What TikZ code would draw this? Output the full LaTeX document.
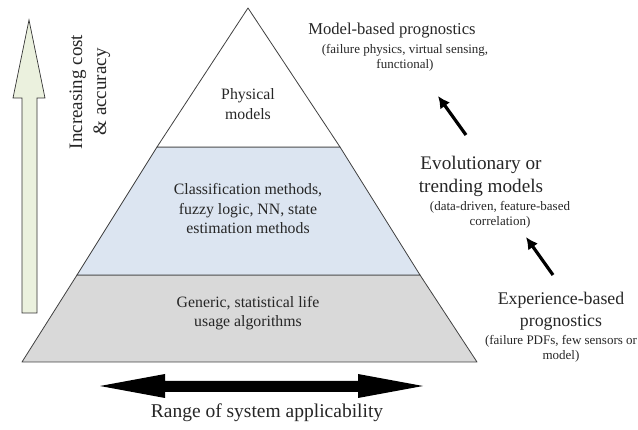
\documentclass[tikz,border=0pt]{standalone}
\usepackage{fontspec}
\setmainfont{Liberation Serif}
\usetikzlibrary{arrows.meta}
\definecolor{tiertop}{HTML}{FFFFFF}
\definecolor{tiermid}{HTML}{DCE5F1}
\definecolor{tierbot}{HTML}{D9D9D9}
\definecolor{costgreen}{HTML}{EBF1DE}
\definecolor{txt}{HTML}{262626}
\begin{document}
\begin{tikzpicture}[x=1pt,y=-1pt,
  tier/.style={draw=black!75,line width=0.8pt,line join=round},
  tiertext/.style={align=center,font=\fontsize{15.8}{19.5}\selectfont,text=txt},
  subtext/.style={align=center,font=\fontsize{13}{15}\selectfont,text=txt},
  stagearrow/.style={line width=3.2pt,-{Latex[length=12pt,width=12pt]}},
]
\useasboundingbox (0,0) rectangle (638,430);
% pyramid corners
\coordinate (apex) at (248,8);
\coordinate (bl) at (22,362);
\coordinate (br) at (477,362);
\coordinate (ml) at (77,275);
\coordinate (mr) at (420,275);
\coordinate (tl) at (157,147);
\coordinate (tr) at (340,147);
% tiers
\filldraw[tier,fill=tierbot] (bl) -- (br) -- (mr) -- (ml) -- cycle;
\filldraw[tier,fill=tiermid] (ml) -- (mr) -- (tr) -- (tl) -- cycle;
\filldraw[tier,fill=tiertop] (tl) -- (tr) -- (apex) -- cycle;
\node[tiertext] (phys) at (248,104) {Physical\\models};
\node[tiertext] (class) at (248,209) {Classification methods,\\fuzzy logic, NN, state\\estimation methods};
\node[tiertext] (gen) at (248,313) {Generic, statistical life\\usage algorithms};
% cost arrow
\filldraw[draw=black!80,line width=0.7pt,fill=costgreen]
  (22,313) -- (37,313) -- (37,98) -- (45,98) -- (29,20) -- (13,98) -- (22,98) -- cycle;
\node[rotate=90,align=center,font=\fontsize{19}{24}\selectfont,text=txt] (cost) at (90,92) {Increasing cost\\\& accuracy};
% prognostic stages
\node[align=center,font=\fontsize{16.6}{20}\selectfont,text=txt] (mb) at (392,31) {Model-based prognostics};
\node[subtext,anchor=north] (mbsub) at (405,41) {(failure physics, virtual sensing,\\functional)};
\node[align=center,font=\fontsize{19.2}{23}\selectfont,text=txt] (evo) at (481,176) {Evolutionary or\\trending models};
\node[subtext,anchor=north] (evosub) at (500,198) {(data-driven, feature-based\\correlation)};
\node[align=center,font=\fontsize{17.8}{22}\selectfont,text=txt] (exp) at (561,311) {Experience-based\\prognostics};
\node[subtext,anchor=north] (expsub) at (561,332) {(failure PDFs, few sensors or\\model)};
\coordinate (a1s) at (466,135);
\coordinate (a1e) at (438,96);
\coordinate (a2s) at (553,275);
\coordinate (a2e) at (526,237);
\draw[stagearrow] (a1s) -- (a1e);
\draw[stagearrow] (a2s) -- (a2e);
% range arrow
\fill (100,386) -- (165,374) -- (165,381) -- (358,381) -- (358,374) -- (423,386)
  -- (358,398) -- (358,392) -- (165,392) -- (165,398) -- cycle;
\node[font=\fontsize{19.5}{23}\selectfont,text=txt] (range) at (267,413) {Range of system applicability};
\end{tikzpicture}
\end{document}
